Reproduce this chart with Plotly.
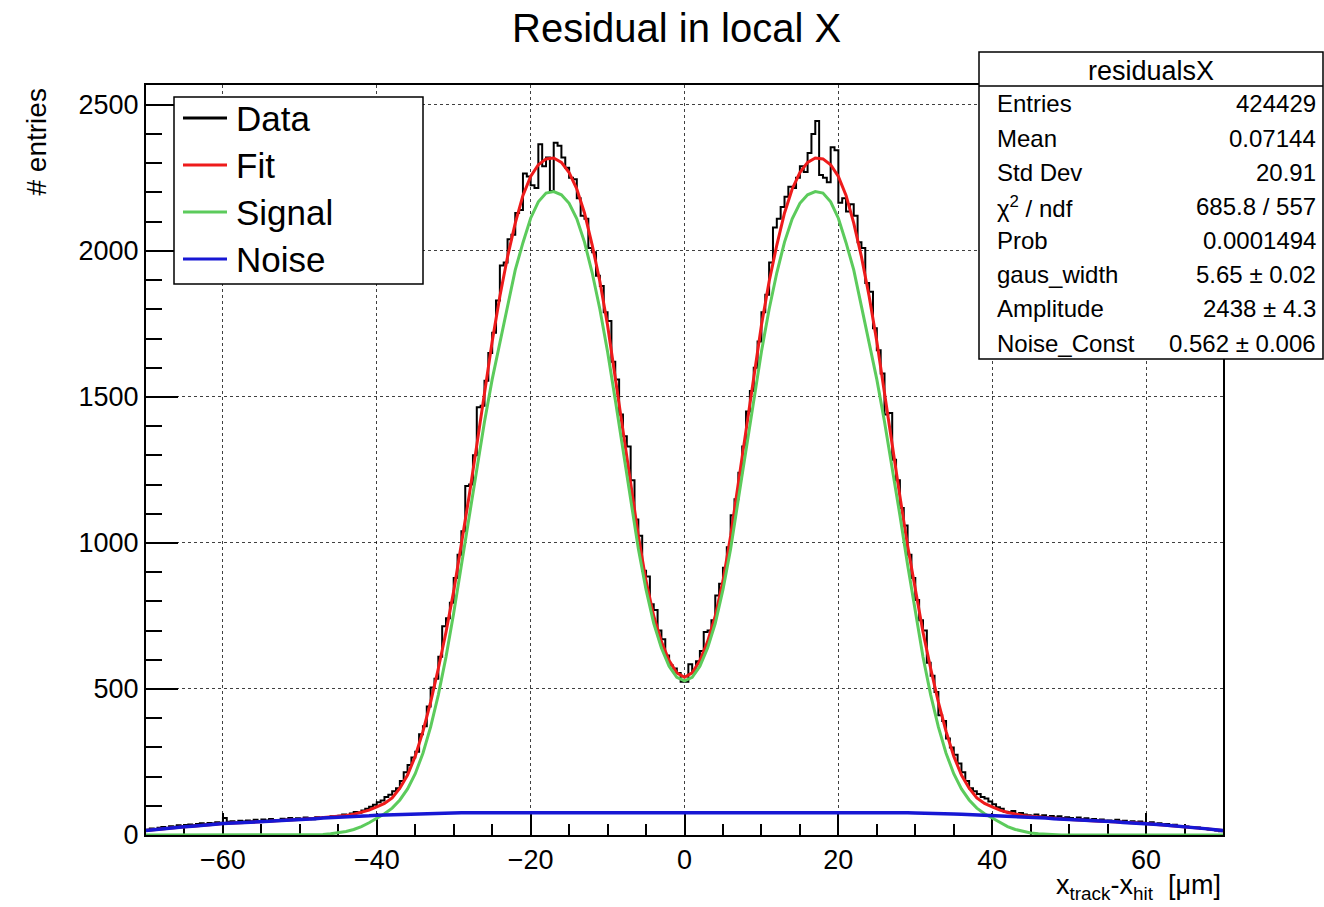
import numpy as np
import plotly.graph_objects as go

# ---------------- data ----------------
HIST_MIN, HIST_MAX, BIN_WIDTH = -70.0, 70.0, 0.5

# histogram counts, 0.5 um bins from -70 to +70
DATA = [
    18, 22, 20, 25, 27, 24, 30, 28, 33, 31,
    34, 36, 33, 38, 40, 37, 41, 39, 44, 42,
    58, 45, 47, 43, 49, 46, 50, 47, 52, 48,
    53, 50, 55, 51, 49, 56, 53, 58, 52, 57,
    55, 60, 57, 54, 61, 58, 62, 59, 64, 61,
    66, 70, 68, 74, 79, 76, 84, 90, 97, 104,
    112, 118, 130, 138, 150, 160, 185, 215, 240, 265,
    285, 345, 372, 440, 505, 535, 610, 715, 742, 795,
    880, 960, 1040, 1195, 1200, 1300, 1465, 1470, 1555, 1650,
    1720, 1830, 1950, 1960, 2040, 2055, 2130, 2140, 2265, 2255,
    2225, 2215, 2365, 2290, 2320, 2205, 2370, 2360, 2320, 2285,
    2250, 2245, 2180, 2120, 2110, 2010, 1995, 1915, 1880, 1790,
    1760, 1620, 1560, 1440, 1365, 1330, 1215, 1080, 1025, 905,
    885, 790, 770, 700, 670, 615, 580, 570, 555, 525,
    525, 585, 560, 595, 630, 695, 700, 735, 820, 860,
    915, 985, 1095, 1150, 1240, 1330, 1450, 1520, 1600, 1690,
    1790, 1850, 1960, 2080, 2110, 2150, 2185, 2220, 2215, 2250,
    2290, 2270, 2335, 2400, 2445, 2260, 2250, 2235, 2355, 2345,
    2165, 2180, 2135, 2160, 2120, 2030, 2010, 1890, 1860, 1735,
    1660, 1580, 1440, 1445, 1285, 1215, 1120, 1060, 960, 880,
    805, 735, 700, 590, 545, 490, 410, 390, 330, 300,
    275, 245, 215, 185, 160, 150, 140, 130, 125, 115,
    105, 95, 90, 80, 78, 82, 72, 75, 70, 68,
    66, 70, 63, 68, 62, 65, 60, 64, 58, 61,
    58, 55, 60, 54, 57, 52, 55, 50, 53, 49,
    50, 47, 52, 46, 49, 44, 47, 43, 46, 42,
    41, 44, 38, 40, 36, 38, 33, 35, 31, 30,
    29, 27, 25, 26, 22, 21, 19, 17, 15, 13,
]

# fitted curves sampled every 1 um from -70 to +70
CURVE_X = list(range(-70, 71))
FIT = [
    15, 18, 21, 23, 26, 28, 30, 33, 35, 37, 39, 40, 42, 43, 45, 46, 47, 49, 50, 52,
    53, 55, 57, 59, 61, 64, 67, 71, 77, 85,
    96, 108, 127, 160, 205, 270, 355, 455, 570, 695,
    835, 990, 1160, 1335, 1510, 1690, 1845, 1980, 2095, 2190,
    2255, 2295, 2315, 2318, 2303, 2268, 2212, 2130, 2020, 1895,
    1745, 1570, 1390, 1205, 1025, 870, 750, 662, 597, 555,
    540,
    555, 597, 662, 750, 870, 1025, 1205, 1390, 1570, 1745,
    1895, 2020, 2130, 2212, 2268, 2303, 2318, 2315, 2295, 2255,
    2190, 2095, 1980, 1845, 1690, 1510, 1335, 1160, 990, 835,
    695, 570, 455, 355, 270, 205, 160, 127, 108, 96,
    85, 77, 71, 67, 64, 61, 59, 57, 55, 53,
    52, 50, 49, 47, 46, 45, 43, 42, 40, 39, 37, 35, 33, 30, 28, 26, 23, 21, 18, 15,
]
SIGNAL = [
    0, 0, 0, 0, 0, 0, 0, 0, 0, 0, 0, 0, 0, 0, 0, 0, 0, 0, 0, 0, 0, 0,
    1, 2, 4, 7, 12, 19, 29, 42,
    58, 73, 92, 120, 158, 210, 280, 370, 480, 610,
    760, 925, 1095, 1260, 1415, 1560, 1685, 1810, 1935, 2028,
    2112, 2168, 2198, 2203, 2192, 2163, 2110, 2030, 1925, 1800,
    1655, 1490, 1320, 1150, 980, 840, 725, 640, 578, 540,
    528,
    540, 578, 640, 725, 840, 980, 1150, 1320, 1490, 1655,
    1800, 1925, 2030, 2110, 2163, 2192, 2203, 2198, 2168, 2112,
    2028, 1935, 1810, 1685, 1560, 1415, 1260, 1095, 925, 760,
    610, 480, 370, 280, 210, 158, 120, 92, 73, 58,
    42, 29, 19, 12, 7, 4, 2, 1,
    0, 0, 0, 0, 0, 0, 0, 0, 0, 0, 0, 0, 0, 0, 0, 0, 0, 0, 0, 0, 0, 0,
]
NOISE = [
    15, 18, 21, 23, 26, 28, 30, 33, 35, 37, 39, 40, 42, 43, 45, 46, 47, 49, 50, 52,
    53, 55, 56, 58, 59, 61, 62, 64, 65, 66,
    68, 69, 70, 70, 71, 72, 73, 73, 74, 75,
    75, 76, 76, 76, 77, 77, 77, 77, 77, 77,
    78, 78, 78, 78, 78, 78, 78, 78,
    79, 79, 79, 79, 79, 79, 79, 79, 79, 79, 79, 79,
    79,
    79, 79, 79, 79, 79, 79, 79, 79, 79, 79, 79, 79,
    78, 78, 78, 78, 78, 78, 78, 78,
    77, 77, 77, 77, 77, 77, 76, 76, 76, 75,
    75, 74, 73, 73, 72, 71, 70, 70, 69, 68,
    66, 65, 64, 62, 61, 59, 58, 56, 55, 53,
    52, 50, 49, 47, 46, 45, 43, 42, 40, 39, 37, 35, 33, 30, 28, 26, 23, 21, 18, 15,
]

X_TICK_DTICK, Y_TICK_DTICK = 20, 500
Y_MAX = 2568

LEGEND_NAMES = ["Data", "Fit", "Signal", "Noise"]
STAT_TITLE = "residualsX"
STAT_LABELS = ["Entries", "Mean", "Std Dev", "χ<sup>2</sup> / ndf", "Prob",
               "gaus_width", "Amplitude", "Noise_Const"]
STAT_VALUES = ["424429", "0.07144", "20.91", "685.8 / 557", "0.0001494",
               "5.65 ± 0.02", "2438 ± 4.3", "0.562 ± 0.006"]

# ---------------- style ----------------
W, H = 1324, 907
L, R, T, B = 146, 1223, 85, 835
FONT = "Liberation Sans, Arial, Helvetica, sans-serif"
C_DATA, C_FIT, C_SIG, C_NOISE = "#000000", "#ee1b1b", "#5ccb5c", "#1717d4"
COLORS = [C_DATA, C_FIT, C_SIG, C_NOISE]


def px(x):
    return (x - L) / (R - L)


def py(y):
    return (B - y) / (B - T)


edges = np.arange(len(DATA) + 1) * BIN_WIDTH + HIST_MIN
hist_y = list(DATA) + [DATA[-1]]

fig = go.Figure()
fig.add_trace(go.Scatter(x=edges, y=hist_y, mode="lines",
                         line=dict(color=C_DATA, width=2, shape="hv"),
                         name="Data", showlegend=False))
fig.add_trace(go.Scatter(x=CURVE_X, y=FIT, mode="lines",
                         line=dict(color=C_FIT, width=3), name="Fit", showlegend=False))
fig.add_trace(go.Scatter(x=CURVE_X, y=SIGNAL, mode="lines",
                         line=dict(color=C_SIG, width=3), name="Signal", showlegend=False))
fig.add_trace(go.Scatter(x=CURVE_X, y=NOISE, mode="lines",
                         line=dict(color=C_NOISE, width=3.5), name="Noise", showlegend=False))

axis_common = dict(
    showline=True, mirror=True, linecolor="black", linewidth=2,
    ticks="inside", tickcolor="black", tickwidth=1.5,
    showgrid=True, gridcolor="rgba(0,0,0,0.75)", gridwidth=1, griddash="dot",
    zeroline=False, tickfont=dict(size=27, color="black", family=FONT),
    layer="below traces",
)

fig.update_layout(
    width=W, height=H, autosize=False,
    margin=dict(l=L, r=W - R, t=T, b=H - B, pad=0),
    plot_bgcolor="white", paper_bgcolor="white",
    font=dict(family=FONT, color="black"),
    showlegend=False,
    xaxis=dict(range=[HIST_MIN, HIST_MAX], tick0=0, dtick=X_TICK_DTICK, ticklen=22,
               minor=dict(dtick=5, ticklen=11, ticks="inside", tickcolor="black",
                          tickwidth=1.5, showgrid=False),
               **axis_common),
    yaxis=dict(range=[0, Y_MAX], tick0=0, dtick=Y_TICK_DTICK, ticklen=32,
               minor=dict(dtick=100, ticklen=16, ticks="inside", tickcolor="black",
                          tickwidth=1.5, showgrid=False),
               **axis_common),
)

shapes = []
annos = []

# title
annos.append(dict(text="Residual in local X", x=px(676), y=py(28), xref="paper", yref="paper",
                  xanchor="center", yanchor="middle", showarrow=False,
                  font=dict(size=40, family=FONT, color="black")))
# axis titles
annos.append(dict(text="# entries", x=px(36), y=py(87), xref="paper", yref="paper",
                  xanchor="center", yanchor="top", textangle=-90, showarrow=False,
                  font=dict(size=28, family=FONT, color="black")))
annos.append(dict(text="x<sub>track</sub>-x<sub>hit</sub>  [μm]", x=px(1223), y=py(887),
                  xref="paper", yref="paper", xanchor="right", yanchor="middle",
                  showarrow=False, font=dict(size=27, family=FONT, color="black")))

# legend box
shapes.append(dict(type="rect", xref="paper", yref="paper", x0=px(174), x1=px(423),
                   y0=py(284), y1=py(97), fillcolor="white", line=dict(color="black", width=1.5),
                   layer="above"))
leg_y = [118, 165, 212, 259]
for name, col, yy in zip(LEGEND_NAMES, COLORS, leg_y):
    shapes.append(dict(type="line", xref="paper", yref="paper", x0=px(183), x1=px(227),
                       y0=py(yy), y1=py(yy), line=dict(color=col, width=3), layer="above"))
    annos.append(dict(text=name, x=px(234), y=py(yy), xref="paper", yref="paper",
                      xanchor="left", yanchor="middle", showarrow=False,
                      font=dict(size=35, family=FONT, color="black")))

# stats box
shapes.append(dict(type="rect", xref="paper", yref="paper", x0=px(979), x1=px(1323),
                   y0=py(359), y1=py(52), fillcolor="white", line=dict(color="black", width=1.5),
                   layer="above"))
shapes.append(dict(type="line", xref="paper", yref="paper", x0=px(979), x1=px(1323),
                   y0=py(86), y1=py(86), line=dict(color="black", width=1.5), layer="above"))
annos.append(dict(text=STAT_TITLE, x=px(1151), y=py(71), xref="paper", yref="paper",
                  xanchor="center", yanchor="middle", showarrow=False,
                  font=dict(size=27, family=FONT, color="black")))
row_y = [104, 138, 172, 207, 241, 274, 308, 343]
for lab, val, yy in zip(STAT_LABELS, STAT_VALUES, row_y):
    annos.append(dict(text=lab, x=px(995), y=py(yy), xref="paper", yref="paper",
                      xanchor="left", yanchor="middle", showarrow=False,
                      font=dict(size=24, family=FONT, color="black")))
    annos.append(dict(text=val, x=px(1318), y=py(yy), xref="paper", yref="paper",
                      xanchor="right", yanchor="middle", showarrow=False,
                      font=dict(size=24, family=FONT, color="black")))

fig.update_layout(shapes=shapes, annotations=annos)
fig.write_html("out.html", config={"displayModeBar": False},
               post_script="document.body.style.margin='0px';document.body.style.padding='0px';")
